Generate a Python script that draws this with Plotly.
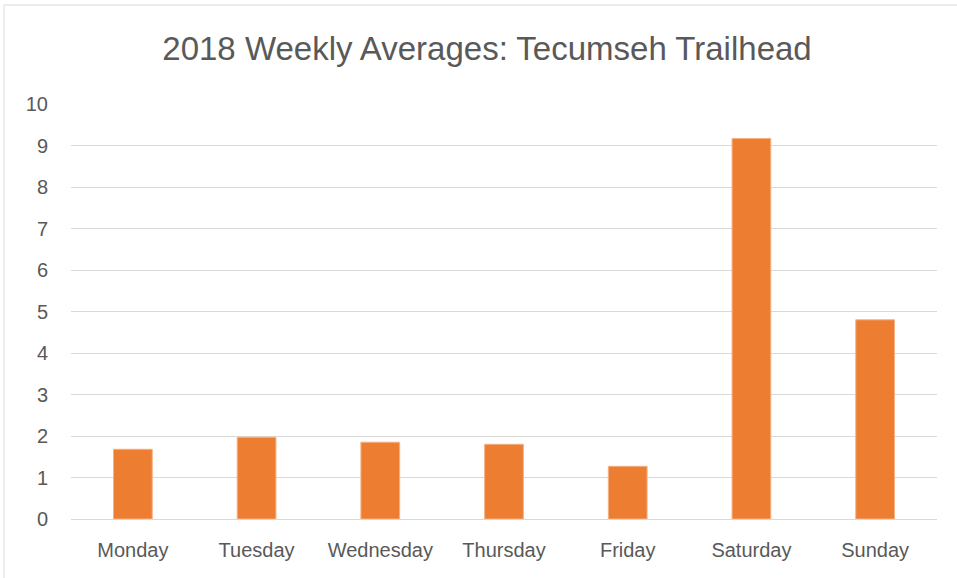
import plotly.graph_objects as go

days = ["Monday", "Tuesday", "Wednesday", "Thursday", "Friday", "Saturday", "Sunday"]
averages = [1.68, 1.97, 1.85, 1.80, 1.27, 9.17, 4.80]
y_ticks = list(range(0, 11))

FONT = "Liberation Sans Narrow, Liberation Sans, sans-serif"
TEXT = "#595959"
BAR = "#ED7D31"

W, H = 957, 578
L, R, T, B = 71, 20, 104, 59

fig = go.Figure(
    go.Bar(
        x=days,
        y=averages,
        marker=dict(color=BAR, line=dict(color="#F4B183", width=1)),
    )
)

pw = W - L - R
ph = H - T - B

fig.update_layout(
    width=W,
    height=H,
    margin=dict(l=L, r=R, t=T, b=B),
    paper_bgcolor="white",
    plot_bgcolor="white",
    bargap=0.687,
    showlegend=False,
    title=dict(
        text="2018 Weekly Averages: Tecumseh Trailhead",
        x=487 / W,
        xanchor="center",
        y=1 - 48 / H,
        yanchor="middle",
        font=dict(family=FONT, size=33, color=TEXT),
    ),
    xaxis=dict(
        showgrid=False,
        showline=True,
        linecolor="#D9D9D9",
        linewidth=1,
        tickfont=dict(family=FONT, size=20, color=TEXT),
        ticklabelstandoff=13,
    ),
    yaxis=dict(
        range=[0, 10],
        tickvals=y_ticks,
        showgrid=True,
        gridcolor="#D9D9D9",
        gridwidth=1,
        zeroline=False,
        tickfont=dict(family=FONT, size=20, color=TEXT),
        ticklabelstandoff=22,
    ),
    shapes=[
        dict(
            type="rect",
            xref="paper",
            yref="paper",
            x0=(4 - L) / pw,
            x1=(W + 5 - L) / pw,
            y0=-(H + 5 - T - ph) / ph,
            y1=1 + (T - 5) / ph,
            line=dict(color="#D9D9D9", width=1),
            layer="below",
        )
    ],
)

fig.write_html("out.html")
